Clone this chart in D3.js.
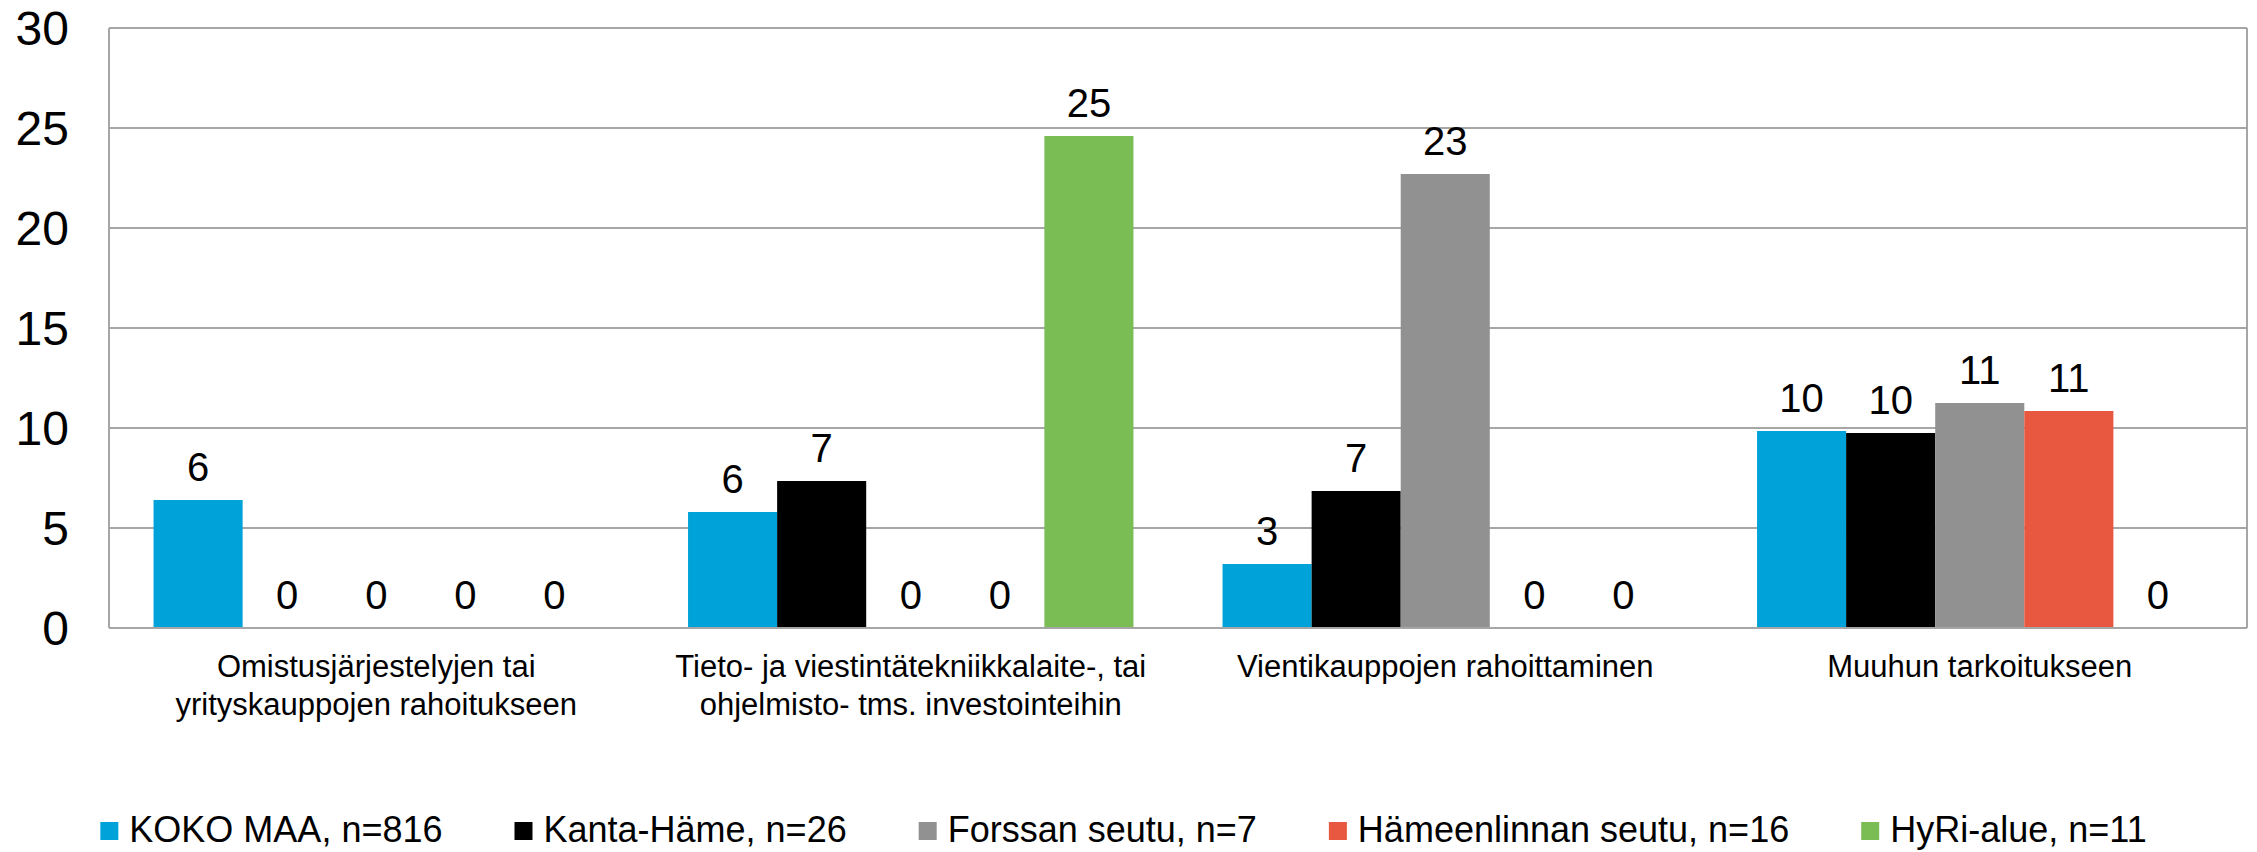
<!DOCTYPE html>
<html>
<head>
<meta charset="utf-8">
<script src="https://cdn.jsdelivr.net/npm/d3@7"></script>
<style>
  body { margin: 0; background: #fff; }
  text { font-family: "Liberation Sans", Arial, sans-serif; fill: #000; }
</style>
</head>
<body>
<div id="chart"></div>
<script>
var W = 2257, H = 852;

// data
var categories = [
  ["Omistusjärjestelyjen tai", "yrityskauppojen rahoitukseen"],
  ["Tieto- ja viestintätekniikkalaite-, tai", "ohjelmisto- tms. investointeihin"],
  ["Vientikauppojen rahoittaminen"],
  ["Muuhun tarkoitukseen"]
];
var seriesNames = ["KOKO MAA, n=816", "Kanta-Häme, n=26", "Forssan seutu, n=7", "Hämeenlinnan seutu, n=16", "HyRi-alue, n=11"];
var kokoMaa     = [6.4, 5.8, 3.2, 9.85];
var kantaHame   = [0, 7.35, 6.85, 9.75];
var forssa      = [0, 0, 22.7, 11.25];
var hameenlinna = [0, 0, 0, 10.85];
var hyri        = [0, 24.6, 0, 0];
var yTicks = [0, 5, 10, 15, 20, 25, 30];

var colors = ["#00a3d9", "#000000", "#919191", "#e8573f", "#7bbd55"];
var allSeries = [kokoMaa, kantaHame, forssa, hameenlinna, hyri];

var m = {left: 109, right: W - 2247, top: 28, bottom: H - 628};

var svg = d3.select("#chart").append("svg")
  .attr("width", W)
  .attr("height", H);

var x0 = d3.scaleBand().domain(d3.range(categories.length)).range([m.left, W - m.right]).padding(0);
var step = x0.step();
var x1 = d3.scaleBand().domain(d3.range(seriesNames.length)).range([step / 12, step - step / 12]).padding(0);
var y = d3.scaleLinear().domain([0, 30]).range([H - m.bottom, m.top]);

// gridlines
svg.append("g")
  .selectAll("line")
  .data(yTicks)
  .enter().append("line")
  .attr("x1", m.left).attr("x2", W - m.right)
  .attr("y1", function(d) { return y(d); })
  .attr("y2", function(d) { return y(d); })
  .attr("stroke", "#a6a6a6")
  .attr("stroke-width", 2);

// frame sides
svg.append("line")
  .attr("x1", m.left).attr("x2", m.left).attr("y1", y(30)).attr("y2", y(0))
  .attr("stroke", "#a6a6a6").attr("stroke-width", 2);
svg.append("line")
  .attr("x1", W - m.right).attr("x2", W - m.right).attr("y1", y(30)).attr("y2", y(0))
  .attr("stroke", "#a6a6a6").attr("stroke-width", 2);

// y axis labels
svg.append("g")
  .selectAll("text")
  .data(yTicks)
  .enter().append("text")
  .attr("x", 69)
  .attr("y", function(d) { return y(d) + 17; })
  .attr("text-anchor", "end")
  .style("font-size", "48px")
  .text(function(d) { return d; });

// bars
var groups = svg.selectAll(".grp")
  .data(categories)
  .enter().append("g")
  .attr("class", "grp")
  .attr("transform", function(d, i) { return "translate(" + x0(i) + ",0)"; });

groups.each(function(c, ci) {
  var g = d3.select(this);
  var vals = allSeries.map(function(s, si) { return {si: si, v: s[ci]}; });

  g.selectAll("rect")
    .data(vals)
    .enter().append("rect")
    .attr("x", function(d) { return x1(d.si); })
    .attr("y", function(d) { return y(d.v); })
    .attr("width", x1.bandwidth())
    .attr("height", function(d) { return y(0) - y(d.v); })
    .attr("fill", function(d) { return colors[d.si]; });

  g.selectAll(".lbl")
    .data(vals)
    .enter().append("text")
    .attr("class", "lbl")
    .attr("x", function(d) { return x1(d.si) + x1.bandwidth() / 2; })
    .attr("y", function(d) { return y(d.v) - 19; })
    .attr("text-anchor", "middle")
    .style("font-size", "40px")
    .text(function(d) { return Math.round(d.v); });
});

// bottom axis line on top of bars
svg.append("line")
  .attr("x1", m.left).attr("x2", W - m.right).attr("y1", y(0)).attr("y2", y(0))
  .attr("stroke", "#a6a6a6").attr("stroke-width", 2);

// category labels
svg.append("g")
  .selectAll("text")
  .data(categories)
  .enter().append("text")
  .attr("text-anchor", "middle")
  .style("font-size", "31px")
  .attr("x", function(d, i) { return x0(i) + step / 2; })
  .attr("y", 677)
  .each(function(d, i) {
    var t = d3.select(this);
    d.forEach(function(line, li) {
      t.append("tspan")
        .attr("x", x0(i) + step / 2)
        .attr("dy", li === 0 ? 0 : 38)
        .text(line);
    });
  });

// legend
var legend = svg.append("g");
var items = legend.selectAll("g")
  .data(seriesNames)
  .enter().append("g");
items.append("rect")
  .attr("width", 18).attr("height", 18)
  .attr("y", 822)
  .attr("fill", function(d, i) { return colors[i]; });
items.append("text")
  .attr("x", 29)
  .attr("y", 842)
  .style("font-size", "36px")
  .text(function(d) { return d; });

var widths = [];
items.select("text").each(function() { widths.push(29 + this.getComputedTextLength()); });
var gap = 72;
var total = d3.sum(widths) + gap * (widths.length - 1);
var cx = 77 + (2170 - 77) / 2;
var pos = cx - total / 2;
items.attr("transform", function(d, i) {
  var p = pos;
  pos += widths[i] + gap;
  return "translate(" + p + ",0)";
});
</script>
</body>
</html>
